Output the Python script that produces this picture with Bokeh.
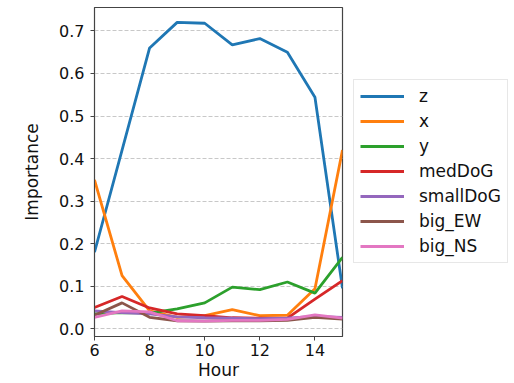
from bokeh.plotting import figure
from bokeh.models import Legend, LegendItem, Range1d, FixedTicker, CustomJSTickFormatter
from bokeh.embed import file_html
from bokeh.resources import INLINE

hours = [6, 7, 8, 9, 10, 11, 12, 13, 14, 15]
z = [0.180, 0.420, 0.660, 0.720, 0.718, 0.667, 0.682, 0.650, 0.544, 0.095]
x = [0.350, 0.125, 0.042, 0.027, 0.031, 0.045, 0.031, 0.032, 0.094, 0.420]
y = [0.035, 0.038, 0.037, 0.047, 0.061, 0.098, 0.092, 0.110, 0.084, 0.168]
medDoG = [0.050, 0.076, 0.049, 0.035, 0.031, 0.026, 0.025, 0.025, 0.070, 0.113]
smallDoG = [0.042, 0.038, 0.035, 0.028, 0.026, 0.025, 0.024, 0.025, 0.029, 0.027]
big_EW = [0.032, 0.061, 0.027, 0.019, 0.018, 0.019, 0.019, 0.020, 0.027, 0.023]
big_NS = [0.027, 0.042, 0.040, 0.019, 0.018, 0.020, 0.020, 0.022, 0.033, 0.025]

series = [("z", z, "#1f77b4"), ("x", x, "#ff7f0e"), ("y", y, "#2ca02c"),
          ("medDoG", medDoG, "#d62728"), ("smallDoG", smallDoG, "#9467bd"),
          ("big_EW", big_EW, "#8c564b"), ("big_NS", big_NS, "#e377c2")]

x_ticks = [6, 8, 10, 12, 14]
y_ticks = [0.0, 0.1, 0.2, 0.3, 0.4, 0.5, 0.6, 0.7]
FONT = "DejaVu Sans"

p = figure(frame_width=248, frame_height=329, output_backend="svg", toolbar_location=None,
           x_range=Range1d(6, 15), y_range=Range1d(-0.018, 0.755),
           min_border_left=94, min_border_right=172, min_border_top=7, min_border_bottom=47)

items = []
for name, vals, col in series:
    r = p.line(hours, vals, line_color=col, line_width=2.8)
    items.append(LegendItem(label=name, renderers=[r]))

p.xaxis.ticker = FixedTicker(ticks=x_ticks)
p.yaxis.ticker = FixedTicker(ticks=y_ticks)
p.yaxis.formatter = CustomJSTickFormatter(code="return tick.toFixed(1);")

p.xgrid.grid_line_color = None
p.ygrid.grid_line_color = "#c8c8c8"
p.ygrid.grid_line_dash = "4 2"
p.ygrid.grid_line_width = 1

p.outline_line_color = "#444444"
p.outline_line_width = 1.2
p.outline_line_alpha = 1

for ax in (p.xaxis[0], p.yaxis[0]):
    ax.axis_line_color = "#444444"
    ax.major_tick_line_color = "#444444"
    ax.minor_tick_line_color = None
    ax.major_tick_in = 0
    ax.major_tick_out = 4
    ax.major_label_text_font = FONT
    ax.major_label_text_font_size = "16px"
    ax.major_label_text_color = "#111111"
    ax.axis_label_text_font = FONT
    ax.axis_label_text_font_size = "17px"
    ax.axis_label_text_font_style = "normal"
    ax.axis_label_text_color = "#111111"

p.xaxis.axis_label = "Hour"
p.yaxis.axis_label = "Importance"
p.xaxis.major_label_standoff = 3
p.xaxis.axis_label_standoff = 1
p.yaxis.major_label_standoff = 6
p.yaxis.axis_label_standoff = 14

legend = Legend(items=items, location=(11, 73))
legend.label_text_font = FONT
legend.label_text_font_size = "17px"
legend.label_text_color = "#111111"
legend.glyph_width = 44
legend.glyph_height = 20
legend.label_height = 20
legend.spacing = 5
legend.padding = 6
legend.margin = 0
legend.label_standoff = 15
legend.border_line_color = "#d0d0d0"
legend.border_line_width = 1
legend.background_fill_alpha = 0.9
p.add_layout(legend, "right")

open("out.html", "w").write(file_html(p, INLINE))
